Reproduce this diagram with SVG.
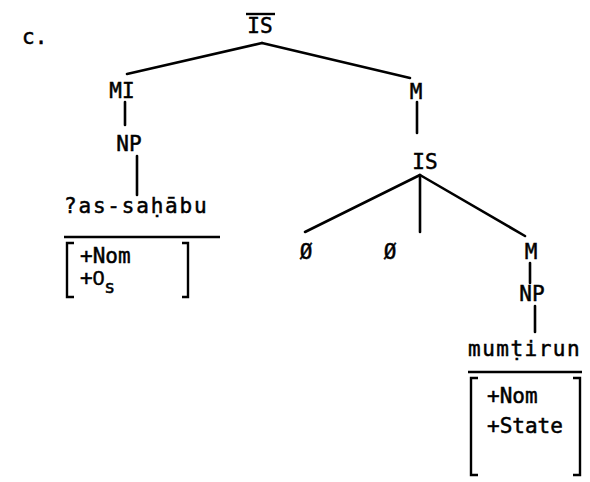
<svg xmlns="http://www.w3.org/2000/svg" width="590" height="482" viewBox="0 0 590 482">
<style>
text{font-family:"DejaVu Sans Mono","Liberation Mono",monospace;font-size:21px;fill:#000;stroke:#000;stroke-width:0.5}
.c{text-anchor:middle}
.e line{stroke:#000;stroke-width:2.6;fill:none;stroke-linecap:round}
.b{stroke:#000;stroke-width:2.4;fill:none}
</style>
<rect width="590" height="482" fill="#fff"/>
<text x="22" y="44">c.</text>
<g id="n-root"><text class="c" x="260" y="33">IS</text><line class="b" x1="246" y1="14" x2="275" y2="14" stroke-width="3"/></g>
<g id="n-mi"><text class="c" x="122" y="98">MI</text></g>
<g id="n-np1"><text class="c" x="129" y="151">NP</text></g>
<g id="n-word1"><text x="64" y="213" letter-spacing="1.8">?as-saḥābu</text><line class="b" x1="64" y1="237" x2="220" y2="237"/></g>
<g id="n-feat1"><path class="b" d="M74,243 H67 V297 H74 M182,243 H188 V297 H182"/><text x="80" y="263">+Nom</text><text x="80" y="285">+<tspan font-family="Liberation Sans, sans-serif">0</tspan><tspan font-size="18" dy="8">s</tspan></text></g>
<g id="n-m1"><text class="c" x="416" y="99">M</text></g>
<g id="n-is"><text class="c" x="425" y="169">IS</text></g>
<g id="n-null1"><text class="c" x="306" y="259">Ø</text></g>
<g id="n-null2"><text class="c" x="390" y="259">Ø</text></g>
<g id="n-m2"><text class="c" x="531" y="259">M</text></g>
<g id="n-np2"><text class="c" x="532" y="301">NP</text></g>
<g id="n-word2"><text x="468" y="356" letter-spacing="1.5">mumṭirun</text><line class="b" x1="468" y1="372" x2="582" y2="372"/></g>
<g id="n-feat2"><path class="b" d="M478,378 H471 V475 H478 M573,378 H580 V475 H573"/><text x="487" y="403">+Nom</text><text x="487" y="433">+State</text></g>
<g id="edges" class="e">
<line x1="262" y1="43" x2="127" y2="74"/>
<line x1="262" y1="43" x2="410" y2="78"/>
<line x1="125" y1="102" x2="125" y2="125"/>
<line x1="137" y1="156" x2="137" y2="195"/>
<line x1="417" y1="102" x2="417" y2="133"/>
<line x1="420" y1="175" x2="305" y2="232"/>
<line x1="420" y1="175" x2="420" y2="232"/>
<line x1="420" y1="175" x2="525" y2="236"/>
<line x1="530" y1="263" x2="530" y2="283"/>
<line x1="535" y1="306" x2="535" y2="332"/>
</g>
</svg>
